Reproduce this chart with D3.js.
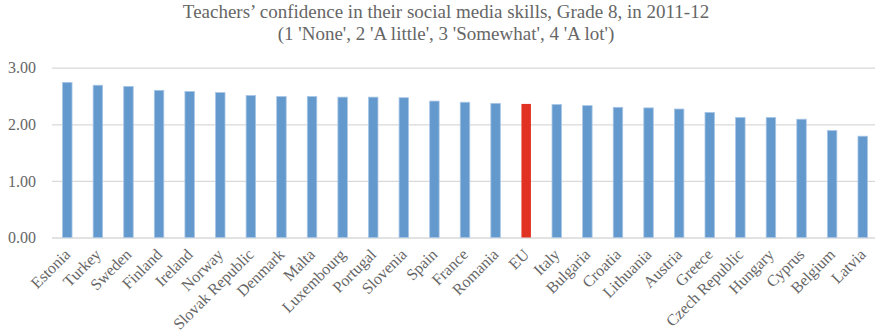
<!DOCTYPE html>
<html>
<head>
<meta charset="utf-8">
<script src="https://cdn.jsdelivr.net/npm/d3@7"></script>
<style>
  body { margin: 0; background: #fff; }
  svg { display: block; }
</style>
</head>
<body>
<svg id="chart" width="875" height="336"></svg>
<script>
// data
var countries = ["Estonia", "Turkey", "Sweden", "Finland", "Ireland", "Norway", "Slovak Republic",
  "Denmark", "Malta", "Luxembourg", "Portugal", "Slovenia", "Spain", "France", "Romania", "EU",
  "Italy", "Bulgaria", "Croatia", "Lithuania", "Austria", "Greece", "Czech Republic", "Hungary",
  "Cyprus", "Belgium", "Latvia"];
var scores = [2.74, 2.69, 2.67, 2.60, 2.58, 2.56, 2.51,
  2.49, 2.49, 2.48, 2.48, 2.47, 2.41, 2.39, 2.37, 2.36,
  2.35, 2.33, 2.30, 2.29, 2.27, 2.21, 2.12, 2.12,
  2.09, 1.89, 1.79];
var yTicks = [0, 1, 2, 3];
var titleLines = ["Teachers\u2019 confidence in their social media skills, Grade 8, in 2011-12",
  "(1 'None', 2 'A little', 3 'Somewhat', 4 'A lot')"];

var data = countries.map(function(c, i) { return {name: c, value: scores[i]}; });

var svg = d3.select("#chart");
var font = "'Liberation Serif', 'Times New Roman', serif";
var grey = "#666666";

var plotLeft = 52, plotRight = 878, plotTop = 67.7, plotBottom = 237.5;

var x = d3.scaleBand()
  .domain(countries)
  .range([plotLeft, plotRight])
  .paddingInner(0.69)
  .paddingOuter(0.345);

var y = d3.scaleLinear()
  .domain([0, 3])
  .range([plotBottom, plotTop]);

// Title
svg.selectAll("text.title")
  .data(titleLines)
  .enter()
  .append("text")
  .attr("class", "title")
  .attr("x", 446)
  .attr("y", function(d, i) { return 18 + i * 22; })
  .attr("text-anchor", "middle")
  .attr("font-family", font)
  .attr("font-size", "19px")
  .attr("fill", grey)
  .text(function(d) { return d; });

// gridlines + y labels
var yAxis = svg.append("g")
  .attr("transform", "translate(" + plotLeft + ",0)")
  .call(d3.axisLeft(y)
    .tickValues(yTicks)
    .tickSize(-(875 - plotLeft))
    .tickPadding(16)
    .tickFormat(d3.format(".2f")));
yAxis.select(".domain").remove();
yAxis.selectAll(".tick line")
  .attr("stroke", "#d9d9d9")
  .attr("stroke-width", 1.3);
yAxis.selectAll(".tick text")
  .attr("font-family", font)
  .attr("font-size", "16px")
  .attr("fill", grey);

// Bars
svg.selectAll("rect.bar")
  .data(data)
  .enter()
  .append("rect")
  .attr("class", "bar")
  .attr("x", function(d) { return x(d.name); })
  .attr("y", function(d) { return y(d.value); })
  .attr("width", x.bandwidth())
  .attr("height", function(d) { return y(0) - y(d.value); })
  .attr("fill", function(d) { return d.name === "EU" ? "#e03123" : "#6399cc"; })
  .attr("stroke", function(d) { return d.name === "EU" ? "none" : "#a9c6e6"; })
  .attr("stroke-width", 0.8);

// X labels
var xAxis = svg.append("g")
  .attr("transform", "translate(0," + plotBottom + ")")
  .call(d3.axisBottom(x).tickSize(0).tickPadding(0));
xAxis.select(".domain").remove();
xAxis.selectAll(".tick text")
  .attr("font-family", font)
  .attr("font-size", "16px")
  .attr("fill", grey)
  .attr("text-anchor", "end")
  .attr("dy", 0)
  .attr("transform", "translate(4,18) rotate(-45)");
</script>
</body>
</html>
